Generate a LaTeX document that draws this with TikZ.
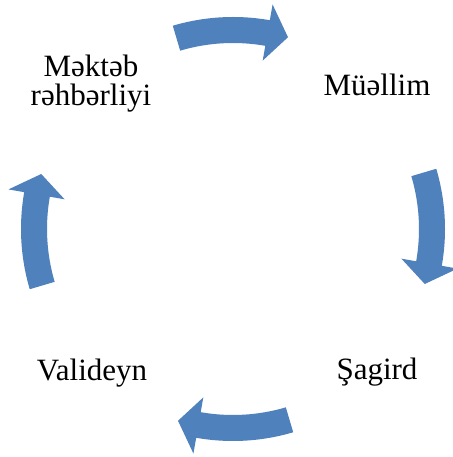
\documentclass[tikz,border=0pt]{standalone}
\usepackage{fontspec}
\setmainfont{Liberation Serif}
\definecolor{arrowblue}{HTML}{4F81BD}
\tikzset{
  cyclearrow/.style={fill=arrowblue, draw=none},
  lbl/.style={font=\fontsize{31}{29}\selectfont, inner sep=0pt, align=center, text=black}
}
\begin{document}
\begin{tikzpicture}[x=1pt,y=1pt]
\useasboundingbox (0,0) rectangle (452,457);
\fill[white] (0,0) rectangle (452,457);
\begin{scope}[shift={(233,228)}]
\foreach \r in {0,-90,-180,-270}{
  \begin{scope}[rotate=\r]
  \fill[cyclearrow] (106.5:212) arc[start angle=106.5, end angle=80, radius=212]
     -- (80:228) -- (74:199.5) -- (80:171) -- (80:186)
     arc[start angle=80, end angle=106.5, radius=186] -- cycle;
  \end{scope}
}
\end{scope}
\node[lbl, anchor=base] (muellim) at (377,361) {Müəllim};
\node[lbl, anchor=base] (sagird) at (377,77) {Şagird};
\node[lbl, anchor=base] (valideyn) at (92,76) {Valideyn};
\node[lbl, anchor=center] (mekteb) at (91,373) {Məktəb\\rəhbərliyi};
\end{tikzpicture}
\end{document}
